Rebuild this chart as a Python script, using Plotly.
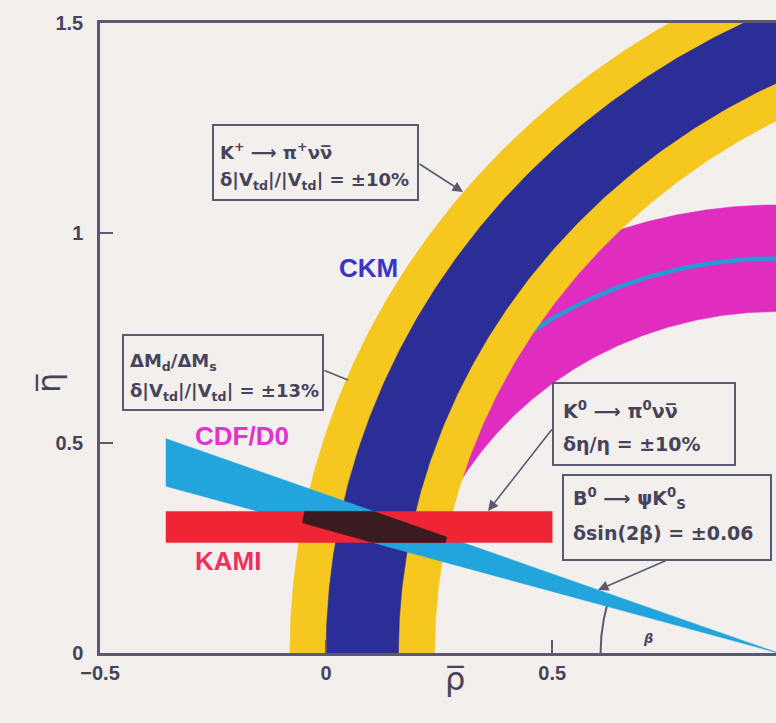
import numpy as np
import plotly.graph_objects as go

# ---------------- data ----------------
# K+ -> pi+ nu nubar band (circle in rho-eta plane)
ckm_center_rho = 1.68
ckm_radius = 1.60
ckm_blue_frac = 0.05     # inner (blue) band
ckm_yellow_frac = 0.10   # outer (yellow) band

# Delta Md / Delta Ms band (CDF/D0)
dm_center_rho = 1.0
dm_radius = 0.94
dm_frac = 0.135

# K0 -> pi0 nu nubar (KAMI)
kami_eta = 0.30
kami_err = 0.037
kami_rho = [-0.354, 0.5]

# B0 -> psi K0s : sin(2 beta)
sin2beta = 0.60
sin2beta_err = 0.06
wedge_rho_start = -0.354
apex_rho = 1.0
beta_arc_radius = 0.393

x_ticks = [-0.5, 0, 0.5]
x_tick_labels = ["\u22120.5", "0", "0.5"]
y_ticks = [0, 0.5, 1, 1.5]
y_tick_labels = ["0", "0.5", "1", "1.5"]

# ---------------- layout constants ----------------
W, H = 776, 723
ML, MR, MT, MB = 100, 0, 23, 70
XR = [-0.5, 0.995]
YR = [0.0, 1.5]
PW, PH = W - ML - MR, H - MT - MB
XS = PW / (XR[1] - XR[0])
YS = PH / (YR[1] - YR[0])


def px2x(px):
    return XR[0] + (px - ML) / XS


def px2y(py):
    return YR[0] + (H - MB - py) / YS


def px2px(px):
    return (px - ML) / PW


def py2py(py):
    return (H - MB - py) / PH


BG = "#f2efec"
FRAME = "#5b5870"
TEXT = "#47435a"
YELLOW = "#f5c71f"
BLUE = "#2b2e96"
PINK = "#e02cbf"
PINKLINE = "#2a98d6"
CYAN = "#22a5dc"
RED = "#ef2535"
DARK = "#3a1b1f"

fig = go.Figure()


def add_poly(xs, ys, color):
    fig.add_trace(go.Scatter(x=xs, y=ys, fill="toself", fillcolor=color, mode="lines",
                             line=dict(width=0.5, color=color), hoverinfo="skip",
                             showlegend=False))


def annulus(c, r_in, r_out, n=500):
    t = np.linspace(0, np.pi, n)
    xo = c + r_out * np.cos(t)
    yo = r_out * np.sin(t)
    xi = c + r_in * np.cos(t[::-1])
    yi = r_in * np.sin(t[::-1])
    return np.concatenate([xo, xi, xo[:1]]), np.concatenate([yo, yi, yo[:1]])


# CDF/D0 band
xs, ys = annulus(dm_center_rho, dm_radius * (1 - dm_frac), dm_radius * (1 + dm_frac))
add_poly(xs, ys, PINK)
t = np.linspace(0, np.pi, 500)
fig.add_trace(go.Scatter(x=dm_center_rho + dm_radius * np.cos(t), y=dm_radius * np.sin(t),
                         mode="lines", line=dict(width=4.5, color=PINKLINE),
                         hoverinfo="skip", showlegend=False))

# CKM bands
r_yo = ckm_radius * (1 + ckm_yellow_frac)
r_yi = ckm_radius * (1 - ckm_yellow_frac)
xs, ys = annulus(ckm_center_rho, r_yi, r_yo)
add_poly(xs, ys, YELLOW)
xs, ys = annulus(ckm_center_rho, ckm_radius * (1 - ckm_blue_frac), ckm_radius * (1 + ckm_blue_frac))
add_poly(xs, ys, BLUE)

# sin 2beta wedge
tan_hi = np.tan(0.5 * np.arcsin(sin2beta + sin2beta_err))
tan_lo = np.tan(0.5 * np.arcsin(sin2beta - sin2beta_err))
L = apex_rho - wedge_rho_start
add_poly([apex_rho, wedge_rho_start, wedge_rho_start, apex_rho],
         [0, tan_hi * L, tan_lo * L, 0], CYAN)

# KAMI bar
add_poly([kami_rho[0], kami_rho[1], kami_rho[1], kami_rho[0], kami_rho[0]],
         [kami_eta - kami_err, kami_eta - kami_err, kami_eta + kami_err,
          kami_eta + kami_err, kami_eta - kami_err], RED)

# overlap region (KAMI ∩ wedge ∩ CKM outer band)
left, right = [], []
for y in np.linspace(kami_eta - kami_err, kami_eta + kami_err, 80):
    wl = apex_rho - y / tan_lo
    wr = apex_rho - y / tan_hi
    cl = ckm_center_rho - np.sqrt(r_yo ** 2 - y ** 2)
    cr = ckm_center_rho - np.sqrt(r_yi ** 2 - y ** 2)
    lo = max(wl, cl, kami_rho[0])
    hi = min(wr, cr, kami_rho[1])
    if lo < hi:
        left.append((lo, y))
        right.append((hi, y))
poly = left + right[::-1] + left[:1]
add_poly([p[0] for p in poly], [p[1] for p in poly], DARK)

# beta arc
ang_end = np.arctan(tan_lo * YS / XS)
ta = np.linspace(0, ang_end, 60)
fig.add_trace(go.Scatter(x=apex_rho - beta_arc_radius * np.cos(ta),
                         y=beta_arc_radius * np.sin(ta) * XS / YS,
                         mode="lines", line=dict(width=2, color=FRAME),
                         hoverinfo="skip", showlegend=False))

# ---------------- boxes ----------------
NUBAR = "\u03bd\u03bd\u0305"
boxes = [
    ((213, 125, 418, 200), [("K<sup>+</sup> \u27f6 \u03c0<sup>+</sup>" + NUBAR, 151),
                            ("\u03b4|V<sub>td</sub>|/|V<sub>td</sub>| = \u00b110%", 181)], 218, 18),
    ((123, 335, 323, 410), [("\u0394M<sub>d</sub>/\u0394M<sub>s</sub>", 362),
                            ("\u03b4|V<sub>td</sub>|/|V<sub>td</sub>| = \u00b113%", 392)], 128, 18),
    ((553, 383, 735, 465), [("K<sup>0</sup> \u27f6 \u03c0<sup>0</sup>" + NUBAR, 410),
                            ("\u03b4\u03b7/\u03b7 = \u00b110%", 444)], 561, 19),
    ((563, 475, 771, 560), [("B<sup>0</sup> \u27f6 \u03c8K<sup>0</sup><sub>S</sub>", 498),
                            ("\u03b4sin(2\u03b2) = \u00b10.06", 533)], 571, 19),
]
annos = []
shapes = []
for (x0, y0, x1, y1), lines, tx, fs in boxes:
    shapes.append(dict(type="rect", xref="x", yref="y", x0=px2x(x0), x1=px2x(x1),
                       y0=px2y(y1), y1=px2y(y0), line=dict(color=FRAME, width=2),
                       fillcolor=BG, layer="above"))
    for txt, ty in lines:
        annos.append(dict(x=px2x(tx), y=px2y(ty), xref="x", yref="y", text=txt,
                          showarrow=False, xanchor="left", yanchor="middle",
                          font=dict(family="DejaVu Sans", size=fs, color=TEXT, weight="bold")))

# connector lines / arrows (tail px, head px, head?)
arrows = [((418, 163), (463, 192), True),
          ((323, 370), (348, 380), False),
          ((553, 428), (488, 511), True),
          ((667, 560), (598, 590), True)]
for (tx, ty), (hx, hy), head in arrows:
    annos.append(dict(x=px2x(hx), y=px2y(hy), ax=px2x(tx), ay=px2y(ty), xref="x", yref="y",
                      axref="x", ayref="y", text="", showarrow=True,
                      arrowhead=2 if head else 0, arrowsize=1.3, arrowwidth=1.6,
                      arrowcolor=FRAME))

# labels
labels = [("CKM", 368, 268, "#3a35c4"), ("CDF/D0", 242, 436, "#e034cc"), ("KAMI", 228, 561, "#f0305c")]
for txt, lx, ly, col in labels:
    annos.append(dict(x=px2x(lx), y=px2y(ly), xref="x", yref="y", text="<b>%s</b>" % txt,
                      showarrow=False, font=dict(family="Liberation Sans", size=26, color=col)))

annos.append(dict(x=px2x(648), y=px2y(638), xref="x", yref="y", text="<i><b>\u03b2</b></i>",
                  showarrow=False, font=dict(family="DejaVu Sans", size=13, color=TEXT)))
annos.append(dict(x=px2px(455), y=py2py(700), xref="paper", yref="paper", text="\u03c1\u0305",
                  showarrow=False, font=dict(family="DejaVu Sans", size=32, color=TEXT)))
annos.append(dict(x=px2px(28), y=py2py(383), xref="paper", yref="paper", text="\u03b7\u0305",
                  showarrow=False, textangle=-90, font=dict(family="DejaVu Sans", size=32, color=TEXT)))

fig.update_layout(
    width=W, height=H, margin=dict(l=ML, r=MR, t=MT, b=MB),
    paper_bgcolor=BG, plot_bgcolor=BG, showlegend=False,
    xaxis=dict(range=XR, tickvals=x_ticks, ticktext=x_tick_labels, ticks="inside",
               ticklen=13, tickwidth=2, tickcolor=FRAME, showline=True, linecolor=FRAME,
               linewidth=2.5, mirror=True, showgrid=False, zeroline=False,
               tickfont=dict(family="Liberation Sans", size=20, color=TEXT, weight="bold")),
    yaxis=dict(range=YR, tickvals=y_ticks, ticktext=y_tick_labels, ticks="inside",
               ticklen=13, tickwidth=2, tickcolor=FRAME, showline=True, linecolor=FRAME,
               linewidth=2.5, showgrid=False, zeroline=False, ticklabelstandoff=10,
               tickfont=dict(family="Liberation Sans", size=20, color=TEXT, weight="bold")),
    shapes=shapes, annotations=annos,
)

fig.write_html("out.html", config={"displayModeBar": False},
               post_script="document.body.style.margin='0';document.body.style.background='%s';" % BG)
